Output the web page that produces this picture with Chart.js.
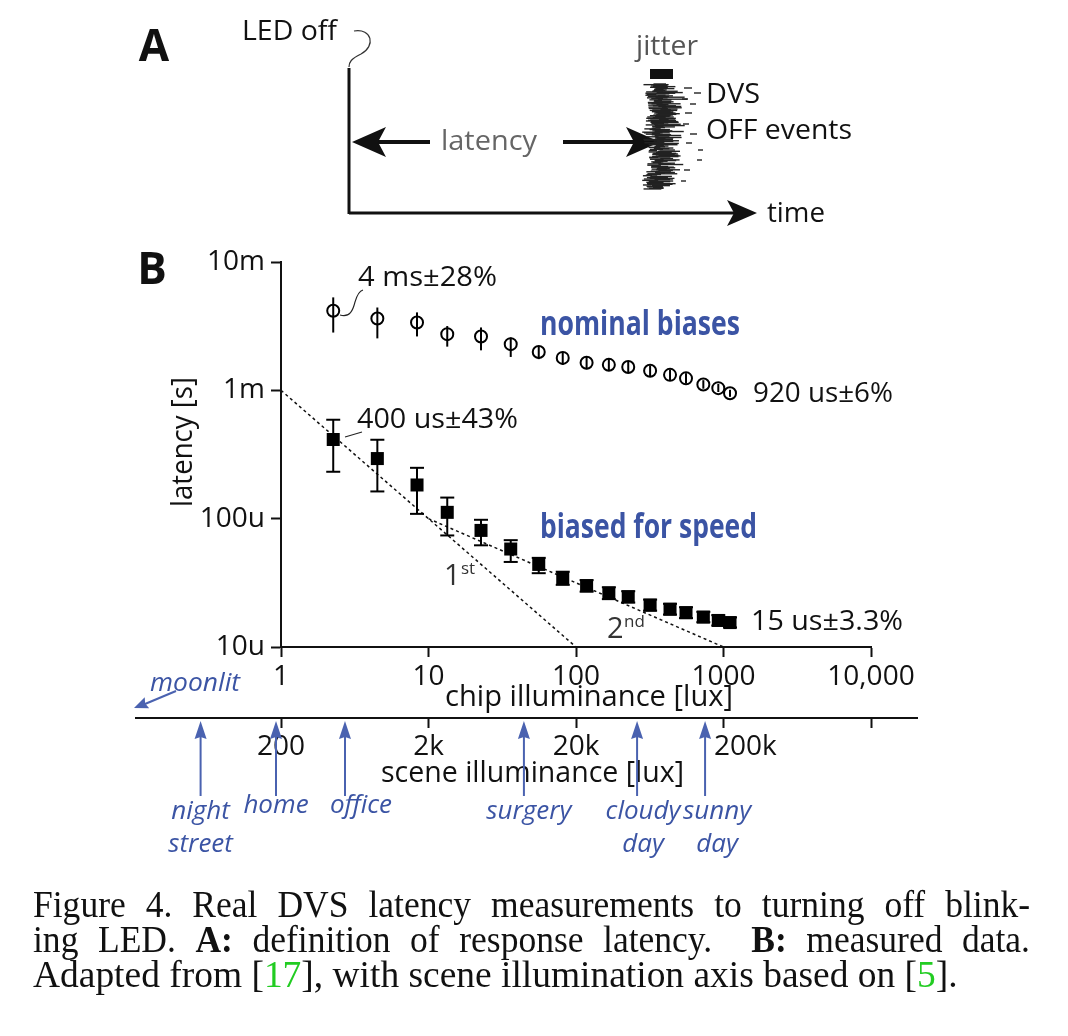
<!DOCTYPE html>
<html><head><meta charset="utf-8">
<script src="https://cdn.jsdelivr.net/npm/chart.js@4.4.0/dist/chart.umd.min.js"></script>
<style>html,body{margin:0;padding:0;background:#fff;overflow:hidden}canvas{display:block}</style>
</head><body>
<canvas id="c" width="1068" height="1036" style="width:1068px;height:1036px"></canvas>
<script>
// ---- data ----
const chipLux = [2.26, 4.5, 8.36, 13.4, 22.7, 36.1, 55.9, 81.3, 118, 167, 226, 318, 434, 557, 730, 922, 1107];
const nominalLatency = [4.17e-3, 3.63e-3, 3.38e-3, 2.74e-3, 2.63e-3, 2.29e-3, 1.99e-3, 1.79e-3, 1.64e-3, 1.58e-3, 1.52e-3, 1.42e-3, 1.32e-3, 1.24e-3, 1.11e-3, 1.04e-3, 0.95e-3];
const nominalLow  = [2.82e-3, 2.54e-3, 2.63e-3, 2.19e-3, 2.05e-3, 1.82e-3, 1.75e-3, 1.58e-3, 1.46e-3, 1.42e-3, 1.37e-3, 1.29e-3, 1.20e-3, 1.13e-3, 1.03e-3, 0.97e-3, 0.89e-3];
const nominalHigh = [5.30e-3, 4.42e-3, 4.05e-3, 3.17e-3, 3.09e-3, 2.58e-3, 2.22e-3, 2.00e-3, 1.84e-3, 1.76e-3, 1.68e-3, 1.56e-3, 1.45e-3, 1.36e-3, 1.20e-3, 1.12e-3, 1.01e-3];
const speedLatency = [414e-6, 294e-6, 183e-6, 112e-6, 81e-6, 58e-6, 44e-6, 34.4e-6, 30e-6, 26.3e-6, 24.6e-6, 21.2e-6, 19.7e-6, 18.5e-6, 17.1e-6, 16.1e-6, 15.5e-6];
const speedLow  = [232e-6, 163e-6, 109e-6, 74e-6, 62e-6, 46e-6, 37.6e-6, 30.5e-6, 27e-6, 23.6e-6, 22.2e-6, 19.2e-6, 17.9e-6, 16.8e-6, 15.6e-6, 14.7e-6, 14.2e-6];
const speedHigh = [590e-6, 412e-6, 249e-6, 146e-6, 98e-6, 68e-6, 49.5e-6, 38.6e-6, 33.2e-6, 29.2e-6, 27.2e-6, 23.4e-6, 21.7e-6, 20.4e-6, 18.8e-6, 17.7e-6, 17e-6];
const fit1stX = [1, 100],   fit1stY = [1e-3, 1e-5];
const fit2ndX = [10, 1000], fit2ndY = [1e-4, 1e-5];
const chipTicks = [1, 10, 100, 1000, 10000];
const chipTickLabels = ['1', '10', '100', '1000', '10,000'];
const sceneTicks = [200, 2000, 20000, 200000, 2000000];
const sceneTickLabels = ['200', '2k', '20k', '200k', ''];
const latencyTicks = [1e-5, 1e-4, 1e-3, 1e-2];
const latencyTickLabels = ['10u', '100u', '1m', '10m'];
const sceneNames = [['night', 'street'], ['home'], ['office'], ['surgery'], ['cloudy', 'day'], ['sunny', 'day']];
const sceneLux = [57, 185, 543, 8870, 51900, 150000];

const BLUE = '#3b54a4', ABLUE = '#4a62b0';
const SANS = '"Open Sans", "Noto Sans", sans-serif';

function T(ctx, s, x, y, font, color, align, w, rot) {
  ctx.save();
  ctx.font = font; ctx.fillStyle = color; ctx.textBaseline = 'middle';
  const nat = ctx.measureText(s).width;
  const sx = w ? w / nat : 1;
  ctx.translate(x, y);
  if (rot) ctx.rotate(rot);
  ctx.scale(sx, 1);
  ctx.textAlign = align || 'left';
  ctx.fillText(s, 0, 0);
  ctx.restore();
}
function seg(ctx, x1, y1, x2, y2) { ctx.beginPath(); ctx.moveTo(x1, y1); ctx.lineTo(x2, y2); ctx.stroke(); }
function head(ctx, tx, ty, ang, len, hw, notch) {
  ctx.save(); ctx.translate(tx, ty); ctx.rotate(ang);
  ctx.beginPath(); ctx.moveTo(0, 0); ctx.lineTo(-len, -hw); ctx.lineTo(-len + notch, 0); ctx.lineTo(-len, hw); ctx.closePath(); ctx.fill();
  ctx.restore();
}
function hash(i) { const s = Math.sin(i * 127.1 + 311.7) * 43758.5453; return s - Math.floor(s); }

// condensed glyphs + justified spaces (or plain scale-to-fit when justify is false)
function justLine(ctx, segs, x, y, target, cond, justify) {
  const toks = [];
  segs.forEach(([t, f, c]) => t.split(/( )/).forEach(p => { if (p !== '') toks.push([p, f, c]); }));
  let wordsW = 0, spW = 0, nSp = 0;
  toks.forEach(([p, f]) => { ctx.font = f; const w = ctx.measureText(p).width; if (p === ' ') { nSp++; spW += w; } else wordsW += w; });
  let c = cond, sp = null;
  if (justify) sp = (target - wordsW * c) / nSp;
  else c = target / (wordsW + spW);
  ctx.save(); ctx.textBaseline = 'alphabetic'; ctx.textAlign = 'left';
  let cx = x;
  toks.forEach(([p, f, col]) => {
    ctx.font = f;
    const w = ctx.measureText(p).width * c;
    if (p === ' ') { cx += justify ? sp : w; return; }
    ctx.save(); ctx.translate(cx, y); ctx.scale(c, 1); ctx.fillStyle = col; ctx.fillText(p, 0, 0); ctx.restore();
    cx += w;
  });
  ctx.restore();
}

const errorBars = {
  id: 'errorBars',
  afterDatasetsDraw(chart) {
    const { ctx, scales: { x, y } } = chart;
    ctx.save(); ctx.strokeStyle = '#000'; ctx.lineWidth = 2;
    chipLux.forEach((lx, i) => {
      const px = x.getPixelForValue(lx);
      seg(ctx, px, y.getPixelForValue(nominalLow[i]), px, y.getPixelForValue(nominalHigh[i]));
      const yl = y.getPixelForValue(speedLow[i]), yh = y.getPixelForValue(speedHigh[i]);
      seg(ctx, px, yl, px, yh);
      seg(ctx, px - 7, yl, px + 7, yl);
      seg(ctx, px - 7, yh, px + 7, yh);
    });
    ctx.restore();
  }
};

const decorations = {
  id: 'decorations',
  afterDraw(chart) {
    const ctx = chart.ctx;
    const { x2 } = chart.scales;
    const F = (sz, st) => (st || '') + ' ' + sz + 'px ' + SANS;

    // ---------- Panel A ----------
    T(ctx, 'A', 154, 48, F(44, 'bold'), '#111', 'center');
    T(ctx, 'LED off', 242, 32, F(28), '#111', 'left', 95);
    ctx.save(); ctx.strokeStyle = '#333'; ctx.lineWidth = 1.2;
    ctx.beginPath(); ctx.moveTo(354, 31); ctx.bezierCurveTo(372, 28, 376, 46, 361, 54); ctx.bezierCurveTo(351, 59, 349, 62, 349, 67); ctx.stroke();
    ctx.restore();
    ctx.save(); ctx.strokeStyle = '#111'; ctx.fillStyle = '#111'; ctx.lineWidth = 3;
    seg(ctx, 349, 68, 349, 214);
    seg(ctx, 349, 213, 738, 213);
    head(ctx, 757, 213, 0, 30, 13, 7);
    ctx.lineWidth = 4;
    seg(ctx, 372, 142, 430, 142);
    head(ctx, 352, 142, Math.PI, 34, 15, 8);
    seg(ctx, 563, 142, 636, 142);
    head(ctx, 660, 142, 0, 34, 15, 8);
    // jitter bar
    ctx.fillRect(650, 69, 23, 10);
    // DVS OFF events (schematic spike cloud)
    ctx.strokeStyle = '#222'; ctx.lineWidth = 1.4;
    for (let i = 0; i < 160; i++) {
      const yy = 84 + i * 0.66;
      const c = 664 + 3 * Math.sin(yy * 0.13);
      const x0 = c - 19 + hash(i) * 14;
      const len = 8 + hash(i + 500) * 22;
      seg(ctx, x0, yy, x0 + len, yy);
    }
    const strays = [[684, 88, 8], [694, 93, 7], [682, 99, 6], [690, 104, 6], [685, 113, 7], [683, 124, 6], [690, 134, 7], [686, 143, 6], [698, 150, 5], [697, 160, 5], [684, 170, 6], [681, 181, 5]];
    strays.forEach(([sx, sy, sl]) => seg(ctx, sx, sy, sx + sl, sy));
    ctx.restore();
    T(ctx, 'jitter', 667, 47, F(28), '#555', 'center', 62);
    T(ctx, 'latency', 441, 142, F(28), '#666', 'left', 96);
    T(ctx, 'DVS', 706, 95, F(28), '#111', 'left', 54);
    T(ctx, 'OFF events', 706, 131, F(28), '#111', 'left', 146);
    T(ctx, 'time', 767, 214, F(28), '#111', 'left', 58);

    // ---------- Panel B annotations ----------
    T(ctx, 'B', 152, 271, F(44, 'bold'), '#111', 'center');
    T(ctx, 'latency [s]', 183, 442, F(30), '#111', 'center', 130, -Math.PI / 2);
    T(ctx, 'chip illuminance [lux]', 445, 697, F(30), '#111', 'left', 288);
    T(ctx, '4 ms\u00b128%', 358, 278, F(28), '#111', 'left', 139);
    T(ctx, '400 us\u00b143%', 357, 420, F(28), '#111', 'left', 161);
    T(ctx, '920 us\u00b16%', 753, 394, F(28), '#111', 'left', 140);
    T(ctx, '15 us\u00b13.3%', 751, 622, F(28), '#111', 'left', 152);
    T(ctx, 'nominal biases', 540, 325, F(34, 'bold'), BLUE, 'left', 200);
    T(ctx, 'biased for speed', 540, 528, F(34, 'bold'), BLUE, 'left', 217);
    T(ctx, '1', 444, 577, F(29), '#333', 'left');
    T(ctx, 'st', 461, 569, F(17), '#333', 'left');
    T(ctx, '2', 607, 630, F(29), '#333', 'left');
    T(ctx, 'nd', 624, 622, F(17), '#333', 'left');
    ctx.save(); ctx.strokeStyle = '#222'; ctx.lineWidth = 1.1;
    ctx.beginPath(); ctx.moveTo(340, 315); ctx.bezierCurveTo(350, 318, 353, 310, 355, 302); ctx.bezierCurveTo(357, 295, 359, 291, 363, 290); ctx.stroke();
    seg(ctx, 345, 437, 362, 432);
    ctx.restore();

    // ---------- scene illuminance axis ----------
    const ay = x2.top;
    ctx.save(); ctx.strokeStyle = '#111'; ctx.lineWidth = 2;
    seg(ctx, 135, ay, 918, ay);
    ctx.restore();
    T(ctx, 'scene illuminance [lux]', 381, 773, F(30), '#111', 'left', 303);

    // environment arrows
    ctx.save(); ctx.strokeStyle = ABLUE; ctx.fillStyle = ABLUE; ctx.lineWidth = 2;
    const labOff = [0, 0, 16, 5, 6, 12];
    sceneLux.forEach((lx, i) => {
      const px = x2.getPixelForValue(lx);
      seg(ctx, px, 796, px, 735);
      head(ctx, px, 721, -Math.PI / 2, 18, 6, 2);
      const names = sceneNames[i];
      const y0 = names.length > 1 || i === 3 ? 812 : 806;
      names.forEach((nm, k) => T(ctx, nm, px + labOff[i], y0 + k * 33, F(26, 'italic'), BLUE, 'center'));
    });
    seg(ctx, 176, 691, 145, 704);
    head(ctx, 134, 708, Math.atan2(708 - 691, 134 - 176), 14, 6, 2);
    ctx.restore();
    T(ctx, 'moonlit', 150, 684, F(26, 'italic'), BLUE, 'left', 90);

    // ---------- caption ----------
    const R = '37px "Liberation Serif", "Times New Roman", serif';
    const B = 'bold 37px "Liberation Serif", "Times New Roman", serif';
    const G = '#22cc22';
    justLine(ctx, [['Figure 4. Real DVS latency measurements to turning off blink-', R, '#111']], 33, 917, 997, 0.96, true);
    justLine(ctx, [['ing LED. ', R, '#111'], ['A:', B, '#111'], [' definition of response latency.  ', R, '#111'], ['B:', B, '#111'], [' measured data.', R, '#111']], 33, 952, 997, 0.96, true);
    justLine(ctx, [['Adapted from [', R, '#111'], ['17', R, G], ['], with scene illumination axis based on [', R, '#111'], ['5', R, G], [']. ', R, '#111']], 33, 987, 934, 1, false);
  }
};

function make() {
  const tickFont = { family: SANS, size: 28 };
  const gridOpts = { drawOnChartArea: false, drawTicks: true, tickLength: 10, tickWidth: 2, color: '#111' };
  new Chart(document.getElementById('c'), {
    type: 'scatter',
    data: {
      datasets: [
        { label: 'nominal biases', data: chipLux.map((v, i) => ({ x: v, y: nominalLatency[i] })), pointStyle: 'circle', radius: 6, borderWidth: 2, borderColor: '#000', backgroundColor: 'rgba(0,0,0,0)', order: 1 },
        { label: 'biased for speed', data: chipLux.map((v, i) => ({ x: v, y: speedLatency[i] })), pointStyle: 'rect', radius: 9.2, borderWidth: 0, backgroundColor: '#000', borderColor: '#000', order: 1 },
        { label: '1st', data: fit1stX.map((v, i) => ({ x: v, y: fit1stY[i] })), showLine: true, borderDash: [3, 3], borderWidth: 1.5, borderColor: '#111', pointRadius: 0, order: 2 },
        { label: '2nd', data: fit2ndX.map((v, i) => ({ x: v, y: fit2ndY[i] })), showLine: true, borderDash: [3, 3], borderWidth: 1.5, borderColor: '#111', pointRadius: 0, order: 2 }
      ]
    },
    options: {
      responsive: false, animation: false, devicePixelRatio: 1,
      layout: { padding: { left: 0, top: 262, right: 197, bottom: 258 } },
      plugins: { legend: { display: false }, tooltip: { enabled: false } },
      scales: {
        x: {
          type: 'logarithmic', position: 'bottom', min: 1, max: 10000, weight: 0,
          afterBuildTicks: s => { s.ticks = chipTicks.map(v => ({ value: v })); },
          afterFit: s => { s.height = 71; },
          ticks: { callback: (v, i) => chipTickLabels[i], font: tickFont, color: '#111', padding: 3, maxRotation: 0, autoSkip: false },
          grid: gridOpts, border: { display: true, color: '#111', width: 2 }
        },
        x2: {
          type: 'logarithmic', position: 'bottom', min: 200, max: 2000000, weight: 1,
          afterBuildTicks: s => { s.ticks = sceneTicks.map(v => ({ value: v })); },
          afterFit: s => { s.height = 60; },
          ticks: { callback: (v, i) => (i === 3 ? '      ' : '') + sceneTickLabels[i], font: tickFont, color: '#111', padding: 2, maxRotation: 0, autoSkip: false },
          grid: gridOpts, border: { display: false }
        },
        y: {
          type: 'logarithmic', position: 'left', min: 1e-5, max: 1e-2,
          afterBuildTicks: s => { s.ticks = latencyTicks.map(v => ({ value: v })); },
          afterFit: s => { s.width = 281; },
          ticks: { callback: (v, i) => latencyTickLabels[i], font: tickFont, color: '#111', padding: 6, autoSkip: false },
          grid: gridOpts, border: { display: true, color: '#111', width: 2 }
        }
      }
    },
    plugins: [errorBars, decorations]
  });
}
const fontsToLoad = ['28px "Open Sans"', 'bold 32px "Open Sans"', 'italic 26px "Open Sans"', '37px "Liberation Serif"', 'bold 37px "Liberation Serif"'];
Promise.all(fontsToLoad.map(f => document.fonts.load(f).catch(() => null))).then(make, make);
</script>
</body></html>
